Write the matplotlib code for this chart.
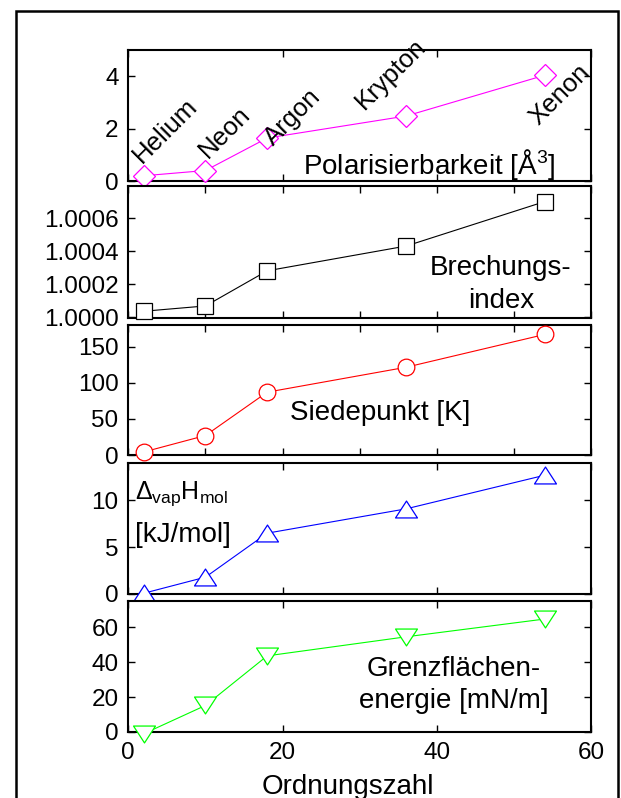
import matplotlib.pyplot as plt
import numpy as np
from matplotlib.patches import Rectangle
from matplotlib.path import Path
from matplotlib.ticker import MultipleLocator, FormatStrFormatter

plt.rcParams['font.family'] = ['Liberation Sans', 'DejaVu Sans']
plt.rcParams['mathtext.fontset'] = 'custom'
plt.rcParams['mathtext.rm'] = 'Liberation Sans'
plt.rcParams['mathtext.it'] = 'Liberation Sans:italic'
plt.rcParams['font.size'] = 17.5

# Ordnungszahl der Edelgase
ordnungszahl = [2, 10, 18, 36, 54]
namen = ['Helium', 'Neon', 'Argon', 'Krypton', 'Xenon']
namen_x = [1.8, 10.25, 18.85, 30.6, 53.2]
namen_y = [0.65, 0.85, 1.3, 2.7, 2.1]

polarisierbarkeit = [0.2, 0.4, 1.64, 2.48, 4.04]
brechungsindex = [1.000035, 1.000067, 1.00028, 1.00043, 1.0007]
siedepunkt = [4.2, 27, 87, 121.5, 167]
verdampfung = [0.08, 1.8, 6.5, 9.1, 12.7]
grenzflaeche = [-1.0, 15.2, 43.6, 54.5, 64.7]

fig = plt.figure(figsize=(6.21, 7.98), dpi=100)
W, H = 621.0, 798.0

# Rahmen um alles
fig.patches.append(Rectangle((15.8 / W, -0.05), (618 - 15.8) / W, 1 - 11 / H + 0.05,
                             fill=False, lw=1.8, ec='black', transform=fig.transFigure))

panels = [(50, 181), (186, 318), (325, 455), (463, 594), (601, 732)]
left = 128.3 / W
width = 463 / W
axes = []
for top, bot in panels:
    ax = fig.add_axes([left, 1 - bot / H, width, (bot - top) / H])
    axes.append(ax)

tri_up = Path([(-1, -0.77), (1, -0.77), (0, 0.77), (-1, -0.77)], closed=True)
tri_dn = Path([(-1, 0.77), (1, 0.77), (0, -0.77), (-1, 0.77)], closed=True)

series = [
    (polarisierbarkeit, 'D', 11.2, '#ff00ff'),
    (brechungsindex, 's', 11, 'black'),
    (siedepunkt, 'o', 12, '#ff0000'),
    (verdampfung, tri_up, 15.8, '#0000ff'),
    (grenzflaeche, tri_dn, 15.8, '#00ff00'),
]
ylims = [(0, 5), (0.999994, 1.000794), (0, 180), (0, 14), (0, 75)]
ysteps = [2, 0.0002, 50, 5, 20]
xsteps = [20, 10, 10, 20, 20]

for i, ax in enumerate(axes):
    vals, mk, ms, col = series[i]
    ax.plot(ordnungszahl, vals, color=col, lw=0.8, marker=mk, ms=ms,
            mfc='white', mec=col, mew=0.9, clip_on=False, zorder=3)
    ax.set_xlim(0, 60)
    ax.set_ylim(*ylims[i])
    ax.xaxis.set_major_locator(MultipleLocator(xsteps[i]))
    ax.yaxis.set_major_locator(MultipleLocator(ysteps[i]))
    ax.tick_params(direction='in', top=True, right=True, length=5, width=1, pad=7)
    for s in ax.spines.values():
        s.set_linewidth(1.5)
    if i < 4:
        ax.tick_params(labelbottom=False)

axes[1].yaxis.set_major_formatter(FormatStrFormatter('%.4f'))
axes[4].set_xticks([0, 20, 40, 60])
axes[4].set_xlabel('Ordnungszahl', fontsize=20)
axes[4].xaxis.set_label_coords(0.475, -0.32)
axes[4].xaxis.label.set_va('top')

for n, x, y in zip(namen, namen_x, namen_y):
    axes[0].text(x, y, n, rotation=45, rotation_mode='anchor', ha='left', va='baseline',
                 fontsize=18.5)

fs = 20
axes[0].text(0.65, 0.056, 'Polarisierbarkeit [Å$^{3}$]', transform=axes[0].transAxes,
             ha='center', va='baseline', fontsize=fs)
axes[1].text(0.805, 0.325, 'Brechungs-', transform=axes[1].transAxes, ha='center',
             va='baseline', fontsize=fs)
axes[1].text(0.805, 0.078, 'index', transform=axes[1].transAxes, ha='center',
             va='baseline', fontsize=fs)
axes[2].text(0.545, 0.32, 'Siedepunkt [K]', transform=axes[2].transAxes, ha='center',
             va='center', fontsize=fs)
axes[3].text(0.014, 0.73, r'$\mathrm{\Delta}_{\mathrm{vap}}\mathrm{H}_{\mathrm{mol}}$',
             transform=axes[3].transAxes, ha='left', va='baseline', fontsize=18)
axes[3].text(0.014, 0.40, '[kJ/mol]', transform=axes[3].transAxes, ha='left',
             va='baseline', fontsize=fs)
axes[4].text(0.702, 0.43, 'Grenzflächen-', transform=axes[4].transAxes, ha='center',
             va='baseline', fontsize=fs)
axes[4].text(0.702, 0.18, 'energie [mN/m]', transform=axes[4].transAxes, ha='center',
             va='baseline', fontsize=fs)

fig.savefig('out.png', dpi=100)
